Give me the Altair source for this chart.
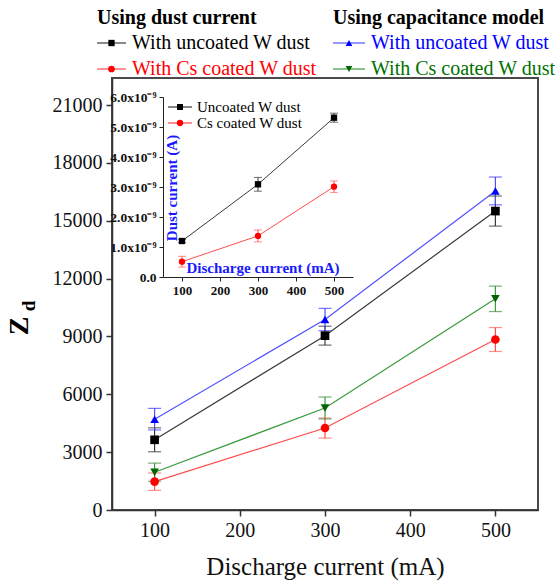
import altair as alt
import pandas as pd

FONT = "Liberation Serif, Times New Roman, serif"

# ---------------- main chart data ----------------
discharge = [100, 300, 500]
series_names = [
    "dust_uncoated", "dust_cs", "cap_uncoated", "cap_cs",
]
z_dust_uncoated = [3640, 9040, 15500]
z_dust_uncoated_err = [620, 490, 780]
z_dust_cs = [1470, 4250, 8840]
z_dust_cs_err = [450, 520, 620]
z_cap_uncoated = [4710, 9875, 16545]
z_cap_uncoated_err = [560, 580, 720]
z_cap_cs = [1960, 5290, 10950]
z_cap_cs_err = [470, 570, 660]

y_ticks = [0, 3000, 6000, 9000, 12000, 15000, 18000, 21000]
x_ticks = [100, 200, 300, 400, 500]

# ---------------- inset data (units of 1e-9 A) ----------------
inset_discharge = [100, 300, 500]
inset_series = ["Uncoated W dust", "Cs coated W dust"]
i_uncoated = [1.20, 3.09, 5.31]
i_uncoated_err = [0.05, 0.23, 0.15]
i_cs = [0.51, 1.37, 3.01]
i_cs_err = [0.18, 0.20, 0.19]
inset_y_ticks = [0, 1, 2, 3, 4, 5, 6]

rows = []
for name, vals, errs in zip(
    series_names,
    [z_dust_uncoated, z_dust_cs, z_cap_uncoated, z_cap_cs],
    [z_dust_uncoated_err, z_dust_cs_err, z_cap_uncoated_err, z_cap_cs_err],
):
    for x, v, e in zip(discharge, vals, errs):
        rows.append({"x": x, "z": v, "lo": v - e, "hi": v + e, "series": name})
main_df = pd.DataFrame(rows)

irows = []
for name, vals, errs in zip(inset_series, [i_uncoated, i_cs], [i_uncoated_err, i_cs_err]):
    for x, v, e in zip(inset_discharge, vals, errs):
        irows.append({"x": x, "v": v, "lo": v - e, "hi": v + e, "series": name})
inset_df = pd.DataFrame(irows)

# ---------------- styles ----------------
line_colors = ["#3a3a3a", "#ff4d4d", "#5050ff", "#3c9a3c"]
mark_colors = ["#000000", "#ff0000", "#0000ff", "#006400"]
err_colors = ["#333333", "#ff5c5c", "#3a3aff", "#3c8f3c"]
shapes = ["square", "circle", "triangle-up", "triangle-down"]

xscale = alt.Scale(domain=[50, 550], nice=False, zero=False)
yscale = alt.Scale(domain=[0, 22400], nice=False)
xaxis = alt.Axis(values=x_ticks, title="Discharge current (mA)", grid=False,
                 labelFont=FONT, labelFontSize=20, labelColor="#111",
                 titleFont=FONT, titleFontSize=25, titleFontWeight="normal",
                 titleColor="#111", titlePadding=14, labelPadding=4,
                 tickSize=6, tickWidth=1.5, tickColor="#333",
                 domainColor="#333", domainWidth=1.5)
yaxis = alt.Axis(values=y_ticks, title=None, grid=False, format="d",
                 labelFont=FONT, labelFontSize=20, labelColor="#111",
                 labelPadding=4, tickSize=6, tickWidth=1.5, tickColor="#333",
                 domainColor="#333", domainWidth=1.5)

X = alt.X("x:Q", scale=xscale, axis=xaxis)
col_line = alt.Color("series:N", scale=alt.Scale(domain=series_names, range=line_colors), legend=None)
col_mark = alt.Color("series:N", scale=alt.Scale(domain=series_names, range=mark_colors), legend=None)
col_err = alt.Color("series:N", scale=alt.Scale(domain=series_names, range=err_colors), legend=None)

base = alt.Chart(main_df)
m_lines = base.mark_line(strokeWidth=1.2).encode(
    x=X, y=alt.Y("z:Q", scale=yscale, axis=yaxis), stroke=col_line, detail="series:N")
m_rules = base.mark_rule(strokeWidth=1.2).encode(
    x=X, y=alt.Y("lo:Q", scale=yscale, axis=yaxis), y2="hi:Q", stroke=col_err)
m_caps = base.transform_fold(["lo", "hi"], as_=["k", "cap"]).mark_tick(
    orient="horizontal", size=13, thickness=1.2).encode(
    x=X, y=alt.Y("cap:Q", scale=yscale, axis=yaxis), color=col_err)
m_points = base.mark_point(filled=True, opacity=1, size=75).encode(
    x=X, y=alt.Y("z:Q", scale=yscale, axis=yaxis), fill=col_mark,
    shape=alt.Shape("series:N", scale=alt.Scale(domain=series_names, range=shapes), legend=None))
main_layer = alt.layer(m_lines, m_rules, m_caps, m_points)

# ---------------- inset ----------------
ixscale = alt.Scale(domain=[50, 550], range=[51, 241], nice=False, zero=False)
iyscale = alt.Scale(domain=[0, 6], range=[199, 19], nice=False)
ixaxis = alt.Axis(values=x_ticks, title=None, orient="bottom", offset=-233, grid=False,
                  labelFont=FONT, labelFontSize=13, labelFontWeight="bold", labelColor="#111",
                  labelPadding=3, tickSize=4, tickColor="#222", domainColor="#222")
iyaxis = alt.Axis(values=inset_y_ticks, title=None, orient="left", offset=-51, grid=False,
                  labelFont=FONT, labelFontSize=13.5, labelFontWeight="bold", labelColor="#111",
                  labelExpr="datum.value == 0 ? '0.0' : format(datum.value, '.1f') + 'x10⁻⁹'",
                  labelPadding=3, tickSize=4, tickColor="#222", domainColor="#222")
iX = alt.X("x:Q", scale=ixscale, axis=ixaxis)
icol_line = alt.Color("series:N", scale=alt.Scale(domain=inset_series, range=["#333333", "#ff4040"]), legend=None)
icol_mark = alt.Color("series:N", scale=alt.Scale(domain=inset_series, range=["#000000", "#ff0000"]), legend=None)
icol_err = alt.Color("series:N", scale=alt.Scale(domain=inset_series, range=["#333333", "#ff6060"]), legend=None)

ibase = alt.Chart(inset_df)
i_lines = ibase.mark_line(strokeWidth=1).encode(
    x=iX, y=alt.Y("v:Q", scale=iyscale, axis=iyaxis), stroke=icol_line, detail="series:N")
i_rules = ibase.mark_rule(strokeWidth=1).encode(
    x=iX, y=alt.Y("lo:Q", scale=iyscale, axis=iyaxis), y2="hi:Q", stroke=icol_err)
i_caps = ibase.transform_fold(["lo", "hi"], as_=["k", "cap"]).mark_tick(
    orient="horizontal", size=8, thickness=1).encode(
    x=iX, y=alt.Y("cap:Q", scale=iyscale, axis=iyaxis), color=icol_err)
i_points = ibase.mark_point(filled=True, opacity=1, size=40).encode(
    x=iX, y=alt.Y("v:Q", scale=iyscale, axis=iyaxis), fill=icol_mark,
    shape=alt.Shape("series:N", scale=alt.Scale(domain=inset_series, range=["square", "circle"]), legend=None))
inset_layer = alt.layer(i_lines, i_rules, i_caps, i_points)


# ---------------- annotations ----------------
def label(text, x, y, size, color="#000", weight="normal", angle=0, align="left"):
    return alt.Chart(alt.Data(values=[{}])).mark_text(
        text=text, font=FONT, fontSize=size, fontWeight=weight, color=color,
        angle=angle, align=align, baseline="middle").encode(x=alt.value(x), y=alt.value(y))


def symbol(x0, x1, y, line_color, mark_color, shape, size):
    r = alt.Chart(alt.Data(values=[{}])).mark_rule(color=line_color, strokeWidth=1.2).encode(
        x=alt.value(x0), x2=alt.value(x1), y=alt.value(y))
    p = alt.Chart(alt.Data(values=[{}])).mark_point(
        shape=shape, filled=True, opacity=1, size=size, color=mark_color).encode(
        x=alt.value((x0 + x1) / 2), y=alt.value(y))
    return [r, p]


ann = []
# top legend
ann.append(label("Using dust current", -15, -60, 20, weight="bold"))
ann.append(label("Using capacitance model", 221, -60, 20, weight="bold"))
ann += symbol(-15, 14, -35, line_colors[0], mark_colors[0], shapes[0], 40)
ann.append(label("With uncoated W dust", 20, -35, 20, color="#000"))
ann += symbol(-15, 14, -9, line_colors[1], mark_colors[1], shapes[1], 45)
ann.append(label("With Cs coated W dust", 20, -9, 20, color="#ff0000"))
ann += symbol(221, 253, -35, line_colors[2], mark_colors[2], shapes[2], 45)
ann.append(label("With uncoated W dust", 259, -35, 20, color="#0000ff"))
ann += symbol(221, 253, -9, line_colors[3], mark_colors[3], shapes[3], 45)
ann.append(label("With Cs coated W dust", 259, -9, 20, color="#007000"))
# y title Z_d
ann.append(label("Z", -92, 248, 28, weight="bold", angle=270, align="center"))
ann.append(label("d", -83, 228, 19, weight="bold", angle=270, align="center"))
# inset legend
ann += symbol(56, 80, 29, "#333333", "#000000", "square", 36)
ann.append(label("Uncoated W dust", 85, 29, 15))
ann += symbol(56, 80, 45, "#ff4040", "#ff0000", "circle", 40)
ann.append(label("Cs coated W dust", 85, 45, 15))
# inset axis titles (inside)
ann.append(label("Dust current (A)", 60, 110, 15, color="#1a1aff", weight="bold", angle=270, align="center"))
ann.append(label("Discharge current (mA)", 151, 190, 15, color="#1a1aff", weight="bold", align="center"))

chart = alt.layer(main_layer, inset_layer, *ann).resolve_scale(
    x="independent", y="independent", color="independent", shape="independent"
).properties(
    width=426, height=432, autosize="none",
    padding={"left": 112, "top": 78, "right": 18, "bottom": 71},
    background="white",
).configure_view(stroke="#4a4a4a", strokeWidth=2)

chart.save("out.html", embed_options={"renderer": "svg", "actions": False})
